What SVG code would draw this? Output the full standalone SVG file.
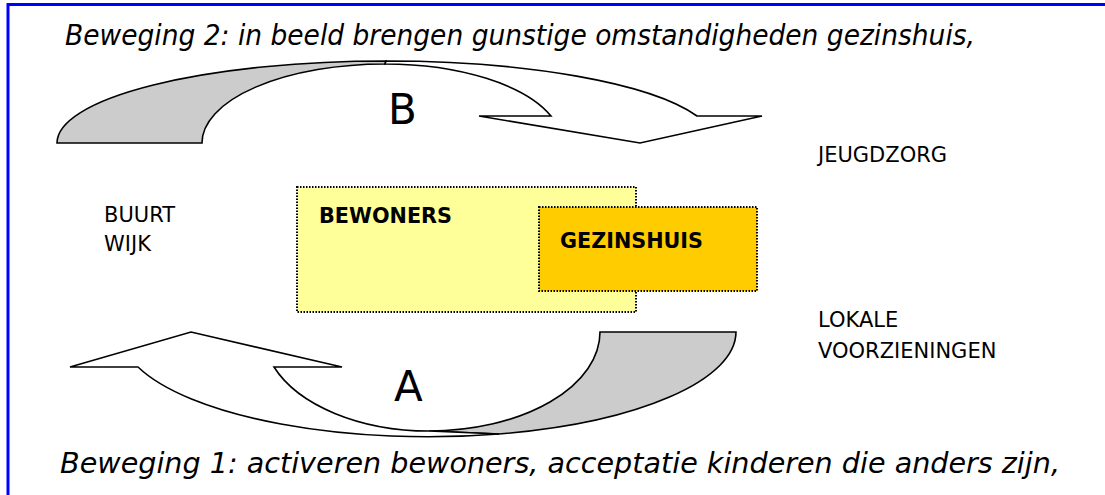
<svg xmlns="http://www.w3.org/2000/svg" width="1105" height="495" viewBox="0 0 1105 495">
  <style>
    .frame { stroke: #0000FF; stroke-width: 3; fill: none; }
    .arrow { stroke: #000; stroke-width: 1.6; stroke-linejoin: miter; }
    .back { fill: #CCCCCC; }
    .front { fill: #FFFFFF; }
    .box { stroke: #000; stroke-width: 2; stroke-dasharray: 1.5 1.5; }
    .title { font-family: "DejaVu Sans", "Liberation Sans", sans-serif; font-style: italic; font-size: 28px; fill: #000; }
    .label { font-family: "DejaVu Sans", "Liberation Sans", sans-serif; font-size: 21px; fill: #000; }
    .bold { font-family: "DejaVu Sans", "Liberation Sans", sans-serif; font-size: 22px; font-weight: bold; fill: #000; }
    .big { font-family: "DejaVu Sans", "Liberation Sans", sans-serif; font-size: 42px; fill: #000; }
  </style>
  <rect x="0" y="0" width="1105" height="495" fill="#FFFFFF"/>
  <g id="frame">
    <line class="frame" x1="8" y1="4.5" x2="1105" y2="4.5"/>
    <line class="frame" x1="8" y1="3" x2="8" y2="495"/>
  </g>
  <g id="connectors">
    <g id="arrow-B">
      <path class="arrow back" d="M57,143 A329,82 0 0 1 386,61 L385,64 A183,79 0 0 0 202,143 Z"/>
      <path class="arrow front" d="M385,64 L386,61 A329,82 0 0 1 697,116 L762,116 L640,143 L479,116 L551,116 A177,79 0 0 0 385,64 Z"/>
    </g>
    <g id="arrow-A">
      <path class="arrow back" d="M429,431 A171,99 0 0 0 600,332 L736,332 A308,105 0 0 1 499,434 Z"/>
      <path class="arrow front" d="M70,367 L191,332 L342,367 L274,367 A166,99 0 0 0 429,431 L499,434 A308,105 0 0 1 138,367 Z"/>
    </g>
  </g>
  <g id="title-top">
    <text class="title" x="65" y="45" textLength="910" lengthAdjust="spacingAndGlyphs">Beweging 2: in beeld brengen gunstige omstandigheden gezinshuis,</text>
  </g>
  <g id="title-bottom">
    <text class="title" x="60" y="473" textLength="1000" lengthAdjust="spacingAndGlyphs">Beweging 1: activeren bewoners, acceptatie kinderen die anders zijn,</text>
  </g>
  <g id="label-B"><text class="big" x="388" y="124">B</text></g>
  <g id="label-A"><text class="big" x="394" y="401">A</text></g>
  <g id="jeugdzorg"><text class="label" x="818" y="162">JEUGDZORG</text></g>
  <g id="buurt-wijk">
    <text class="label" x="104" y="222">BUURT</text>
    <text class="label" x="104" y="251">WIJK</text>
  </g>
  <g id="lokale">
    <text class="label" x="818" y="327">LOKALE</text>
    <text class="label" x="818" y="358">VOORZIENINGEN</text>
  </g>
  <g id="bewoners">
    <rect class="box" x="297" y="187" width="339" height="125" fill="#FFFF99"/>
    <text class="bold" x="319" y="223" textLength="133" lengthAdjust="spacingAndGlyphs">BEWONERS</text>
  </g>
  <g id="gezinshuis">
    <rect class="box" x="539" y="207" width="218" height="84" fill="#FFCC00"/>
    <text class="bold" x="560" y="248" textLength="143" lengthAdjust="spacingAndGlyphs">GEZINSHUIS</text>
  </g>
</svg>
